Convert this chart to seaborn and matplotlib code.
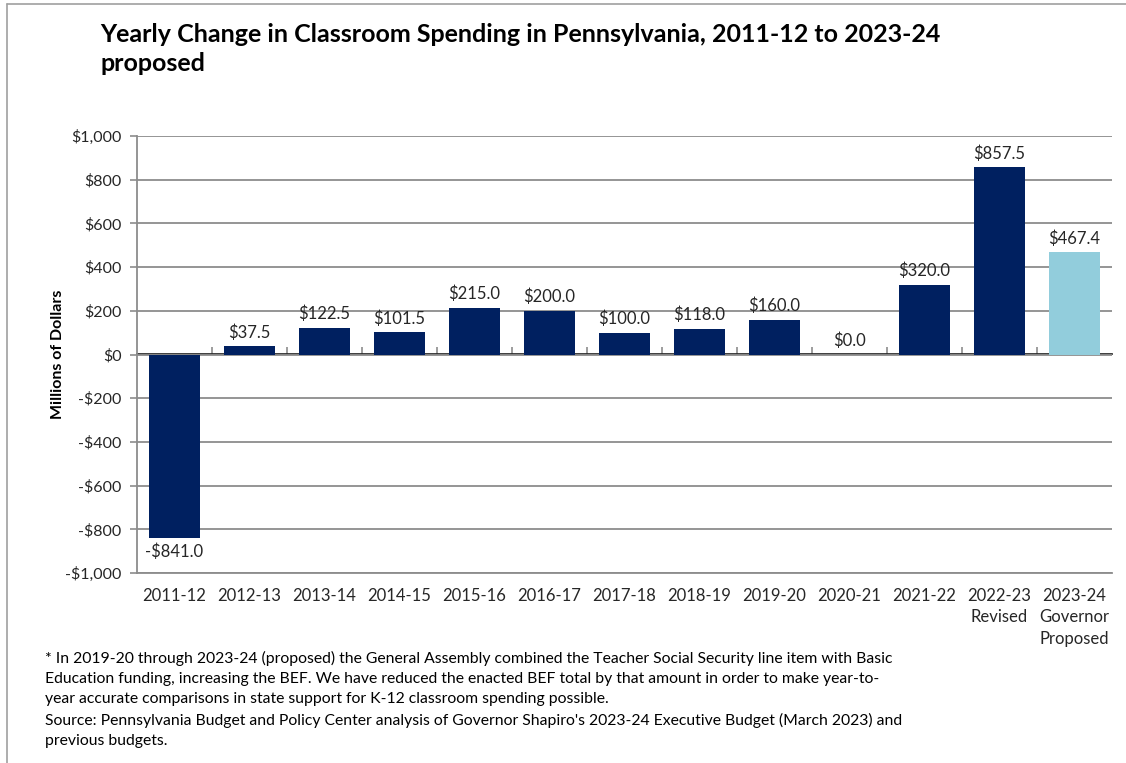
import matplotlib
matplotlib.use("Agg")
import matplotlib.pyplot as plt
from matplotlib.lines import Line2D
import seaborn as sns
import pandas as pd

# Fiscal years and yearly change in classroom spending (millions of dollars)
years = ["2011-12", "2012-13", "2013-14", "2014-15", "2015-16", "2016-17",
         "2017-18", "2018-19", "2019-20", "2020-21", "2021-22",
         "2022-23\nRevised", "2023-24\nGovernor\nProposed"]
changes = [-841.0, 37.5, 122.5, 101.5, 215.0, 200.0, 100.0, 118.0,
           160.0, 0.0, 320.0, 857.5, 467.4]
status = ["Enacted"] * 12 + ["Proposed"]

y_ticks = [-1000, -800, -600, -400, -200, 0, 200, 400, 600, 800, 1000]

title = "Yearly Change in Classroom Spending in Pennsylvania, 2011-12 to 2023-24\nproposed"
y_label = "Millions of Dollars"
footnote = ("* In 2019-20 through 2023-24 (proposed) the General Assembly combined the Teacher Social Security line item with Basic\n"
            "Education funding, increasing the BEF. We have reduced the enacted BEF total by that amount in order to make year-to-\n"
            "year accurate comparisons in state support for K-12 classroom spending possible.\n"
            "Source: Pennsylvania Budget and Policy Center analysis of Governor Shapiro's 2023-24 Executive Budget (March 2023) and\n"
            "previous budgets.")

NAVY = "#002060"
LIGHT = "#92CDDC"
GRID = "#8c8c8c"
TEXT = "#262626"

sns.set_theme(style="white")
plt.rcParams["font.family"] = ["Lato", "DejaVu Sans"]

df = pd.DataFrame({"year": years, "change": changes, "status": status})

fig = plt.figure(figsize=(11.26, 7.63), dpi=100)
ax = fig.add_axes([137 / 1126, 1 - 573 / 763, (1112 - 137) / 1126, (573 - 136) / 763])

sns.barplot(data=df, x="year", y="change", hue="status",
            palette={"Enacted": NAVY, "Proposed": LIGHT},
            dodge=False, width=0.67, legend=False, ax=ax, saturation=1,
            edgecolor="none", linewidth=0)

ax.set_ylim(-1000, 1000)
ax.set_xlim(-0.5, len(years) - 0.5)
ax.set_yticks(y_ticks)
ax.set_yticklabels([("-$" if v < 0 else "$") + f"{abs(v):,}" for v in y_ticks],
                   fontsize=11.5, color=TEXT)
ax.yaxis.grid(True, color=GRID, linewidth=1.3)
ax.set_axisbelow(True)
ax.tick_params(axis="y", length=5, width=1.2, color=GRID, direction="out", pad=6, left=True)
ax.tick_params(axis="x", length=0, pad=11, labelsize=12, labelcolor=TEXT)
for lbl in ax.get_xticklabels():
    lbl.set_linespacing(1.4)
ax.set_xlabel("")
ax.set_ylabel(y_label, fontsize=11.5, fontweight="bold", color="black")
ax.yaxis.set_label_coords(-0.074, 0.5)

for side in ["top", "right"]:
    ax.spines[side].set_visible(False)
for side in ["left", "bottom"]:
    ax.spines[side].set_color(GRID)
    ax.spines[side].set_linewidth(1.3)

# Category axis crossing at zero with tick marks between bars
zero_axis = ax.secondary_xaxis(0.5)
zero_axis.set_xticks([i + 0.5 for i in range(len(years) - 1)])
zero_axis.set_xticklabels([])
zero_axis.tick_params(length=5, width=1.2, color=GRID, direction="out")
zero_axis.spines["bottom"].set_color(GRID)
zero_axis.spines["bottom"].set_linewidth(1.3)

# Value labels
for container in ax.containers:
    vals = container.datavalues
    ax.bar_label(container,
                 labels=[("-$" if v < 0 else "$") + f"{abs(v):,.1f}" if v == v else "" for v in vals],
                 padding=4, fontsize=12, color=TEXT)

fig.text(100 / 1126, 1 - 23 / 763, title, fontsize=18, fontweight="bold",
         color="black", va="top", ha="left", linespacing=1.3)
fig.text(45 / 1126, 1 - 651 / 763, footnote, fontsize=11.3, color="black",
         va="top", ha="left", linespacing=1.55)

# Frame lines along the top and left edges
fig.add_artist(Line2D([7 / 1126, 1.0], [1 - 4 / 763, 1 - 4 / 763],
                      transform=fig.transFigure, color="#a0a0a0", linewidth=1.2))
fig.add_artist(Line2D([7 / 1126, 7 / 1126], [0, 1 - 4 / 763],
                      transform=fig.transFigure, color="#a0a0a0", linewidth=1.2))

fig.savefig("out.png", dpi=100, facecolor="white")
